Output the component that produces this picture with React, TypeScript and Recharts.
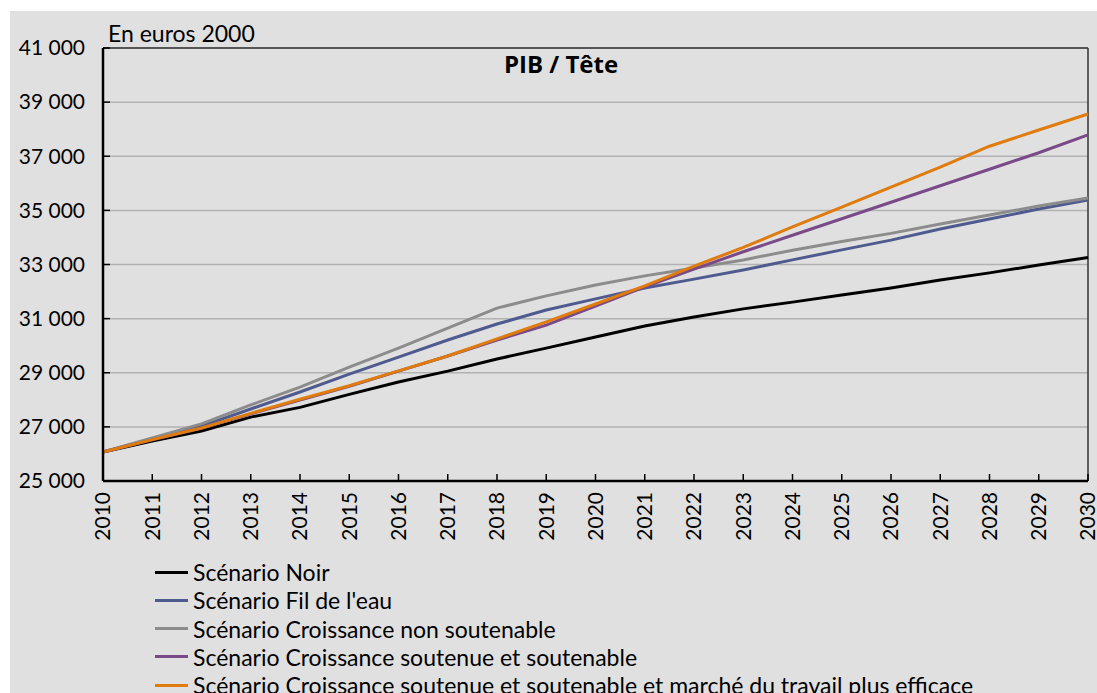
import React from 'react';
import {
  LineChart,
  Line,
  XAxis,
  YAxis,
  CartesianGrid,
  Legend,
  ReferenceLine,
} from 'recharts';

const years = [
  '2010', '2011', '2012', '2013', '2014', '2015', '2016', '2017', '2018', '2019', '2020',
  '2021', '2022', '2023', '2024', '2025', '2026', '2027', '2028', '2029', '2030',
];

const noir = [
  26070, 26480, 26850, 27360, 27720, 28200, 28660, 29060, 29510, 29910, 30320,
  30730, 31060, 31360, 31610, 31870, 32130, 32430, 32690, 32980, 33260,
];
const filEau = [
  26070, 26550, 27030, 27660, 28290, 28950, 29580, 30210, 30800, 31320, 31730,
  32130, 32460, 32800, 33170, 33540, 33900, 34310, 34680, 35050, 35380,
];
const nonSoutenable = [
  26070, 26590, 27110, 27810, 28470, 29210, 29910, 30650, 31390, 31840, 32240,
  32580, 32870, 33170, 33530, 33850, 34150, 34500, 34830, 35160, 35460,
];
const soutenue = [
  26070, 26520, 26950, 27480, 27990, 28500, 29060, 29620, 30210, 30760, 31460,
  32170, 32830, 33470, 34080, 34690, 35300, 35910, 36520, 37130, 37790,
];
const marcheTravail = [
  26070, 26530, 26960, 27500, 28020, 28520, 29070, 29620, 30250, 30880, 31540,
  32210, 32940, 33630, 34390, 35120, 35860, 36600, 37370, 37970, 38560,
];

const yTicks = [25000, 27000, 29000, 31000, 33000, 35000, 37000, 39000, 41000];

const series = [
  { key: 'noir', name: 'Scénario Noir', color: '#000000', values: noir },
  { key: 'fil', name: "Scénario Fil de l'eau", color: '#4f5a8f', values: filEau },
  { key: 'nonsout', name: 'Scénario Croissance non soutenable', color: '#8c8c8c', values: nonSoutenable },
  { key: 'sout', name: 'Scénario Croissance soutenue et soutenable', color: '#7a4a88', values: soutenue },
  {
    key: 'marche',
    name: 'Scénario Croissance soutenue et soutenable et marché du travail plus efficace',
    color: '#e07b0e',
    values: marcheTravail,
  },
];

const data = years.map((year, i) => {
  const row: Record<string, string | number> = { year };
  series.forEach((s) => {
    row[s.key] = s.values[i];
  });
  return row;
});

const FONT = 'Lato, "Open Sans", sans-serif';

const fmt = (v: number) => String(v).replace(/\B(?=(\d{3})+(?!\d))/g, ' ');

const YTick = (props: any) => {
  const { x, y, payload } = props;
  return (
    <g>
      <line x1={x + 18} x2={x + 25} y1={y} y2={y} stroke="#000" strokeWidth={1.5} />
      <text x={x} y={y} dy="0.35em" textAnchor="end" fontSize={21} fontFamily={FONT} fill="#000">
        {fmt(payload.value)}
      </text>
    </g>
  );
};

const XTick = (props: any) => {
  const { x, y, payload } = props;
  return (
    <g>
      <line x1={x} x2={x} y1={y - 11} y2={y - 18} stroke="#000" strokeWidth={1.5} />
      <text
        x={x}
        y={y}
        dy="0.35em"
        textAnchor="end"
        transform={`rotate(-90, ${x}, ${y})`}
        fontSize={21}
        fontFamily={FONT}
        fill="#000"
      >
        {payload.value}
      </text>
    </g>
  );
};

const LegendContent = () => (
  <div style={{ height: 140, paddingLeft: 145, paddingTop: 5, boxSizing: 'border-box', fontFamily: FONT }}>
    {series.map((s) => (
      <div key={s.key} style={{ height: 28.25, display: 'flex', alignItems: 'center', whiteSpace: 'nowrap' }}>
        <span style={{ display: 'inline-block', width: 33, height: 3, background: s.color, marginRight: 5 }} />
        <span style={{ fontSize: 23, color: '#000' }}>{s.name}</span>
      </div>
    ))}
  </div>
);

export default function App() {
  return (
    <div
      style={{
        position: 'fixed',
        left: 0,
        top: 0,
        width: 1097,
        height: 693,
        overflow: 'hidden',
        background: '#fff',
      }}
    >
      <div
        style={{
          position: 'absolute',
          left: 10,
          top: 11,
          width: 1087,
          height: 682,
          background: '#e0e0e0',
          overflow: 'hidden',
        }}
      >
        <LineChart
          width={1087}
          height={682}
          data={data}
          margin={{ top: 37, right: 9, left: 0, bottom: 0 }}
        >
          <CartesianGrid horizontal vertical={false} stroke="#b2b2b2" strokeWidth={1.5} />
          <XAxis
            dataKey="year"
            height={72}
            interval={0}
            tickSize={0}
            tickMargin={11}
            tick={<XTick />}
            axisLine={{ stroke: '#000', strokeWidth: 2.5 }}
            tickLine={false}
          />
          <YAxis
            width={93}
            domain={[25000, 41000]}
            ticks={yTicks}
            interval={0}
            tickSize={0}
            tickMargin={18}
            tick={<YTick />}
            axisLine={{ stroke: '#000', strokeWidth: 2.5 }}
            tickLine={false}
            allowDataOverflow
          />
          <ReferenceLine y={41000} stroke="#333" strokeWidth={1.5} />
          <ReferenceLine x="2030" stroke="#333" strokeWidth={1.5} />
          {series.map((s) => (
            <Line
              key={s.key}
              type="linear"
              dataKey={s.key}
              name={s.name}
              stroke={s.color}
              strokeWidth={3}
              dot={false}
              activeDot={false}
              isAnimationActive={false}
            />
          ))}
          <Legend
            verticalAlign="bottom"
            content={<LegendContent />}
            wrapperStyle={{ left: 0, width: 1087 }}
          />
        </LineChart>
        <div
          style={{
            position: 'absolute',
            left: 98,
            top: 8,
            fontFamily: FONT,
            fontSize: 23,
            lineHeight: '28px',
            color: '#000',
            whiteSpace: 'nowrap',
          }}
        >
          En euros 2000
        </div>
        <div
          style={{
            position: 'absolute',
            left: 551,
            top: 38,
            transform: 'translateX(-50%)',
            fontFamily: '"Open Sans", Lato, sans-serif',
            fontSize: 24,
            lineHeight: '30px',
            fontWeight: 700,
            color: '#000',
            whiteSpace: 'nowrap',
          }}
        >
          PIB / Tête
        </div>
      </div>
    </div>
  );
}
